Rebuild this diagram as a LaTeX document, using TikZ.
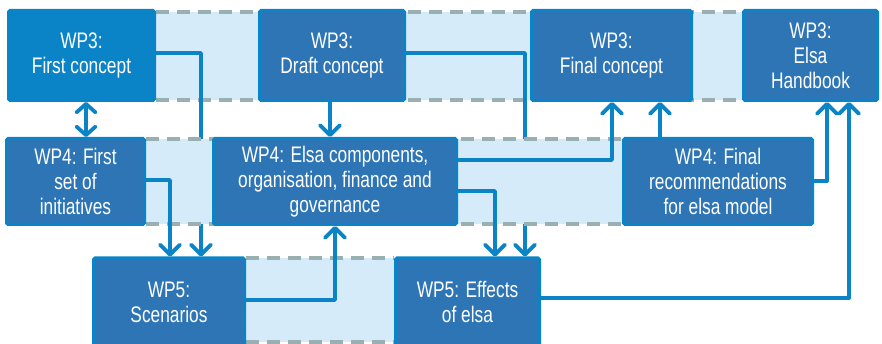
\documentclass[tikz,border=0pt]{standalone}
\usepackage{fontspec}
\setmainfont{Liberation Sans}[FakeStretch=0.77]
\usetikzlibrary{arrows.meta}
\definecolor{bright}{HTML}{0A84C7}
\definecolor{darkbox}{HTML}{2E75B6}
\definecolor{bandfill}{HTML}{D6EBF9}
\definecolor{bandline}{HTML}{9AAFB1}
\tikzset{
  box/.style={rectangle, draw=bright, fill=darkbox, line width=3pt, rounded corners=1.5pt,
    text=white, align=center, inner sep=2pt, font=\fontsize{22.5}{25}\selectfont},
  fullbox/.style={box, fill=bright},
  conn/.style={draw=bright, line width=3.8pt, line join=round,
    -{Straight Barb[length=10pt,width=20pt,round]}},
  dconn/.style={conn, {Straight Barb[length=8.5pt,width=19pt,round]}-{Straight Barb[length=8.5pt,width=19pt,round]}},
  bandedge/.style={draw=bandline, line width=3.5pt, dash pattern=on 13pt off 8pt}
}
\begin{document}
\begin{tikzpicture}[x=1pt,y=-1pt]
\useasboundingbox (0,0) rectangle (882,344);
\pgfdeclarelayer{bg}\pgfdeclarelayer{mid}\pgfdeclarelayer{low}
\pgfsetlayers{low,bg,mid,main}
\node[fullbox, minimum width=146pt, minimum height=90pt] (fc) at (81.5,55.5) {WP3:\\First concept};
\node[box, minimum width=145pt, minimum height=90pt] (dc) at (332,55.5) {WP3:\\Draft concept};
\node[box, minimum width=160pt, minimum height=90pt] (fin) at (611.5,55.5) {WP3:\\Final concept};
\node[box, minimum width=134pt, minimum height=90pt] (hb) at (810.5,55.5) {WP3:\\Elsa\\Handbook};
\node[box, minimum width=138pt, minimum height=86pt] (fs) at (75.5,181.5) {WP4: First\\set of\\initiatives};
\node[box, minimum width=243pt, minimum height=86pt] (ec) at (335,181.5) {WP4: Elsa components,\\organisation, finance and\\governance};
\node[box, minimum width=189pt, minimum height=86pt] (fr) at (718,181.5) {WP4: Final\\recommendations\\for elsa model};
\node[box, minimum width=151pt, minimum height=88pt] (sc) at (169,302) {WP5:\\Scenarios};
\node[box, minimum width=144pt, minimum height=88pt] (ef) at (467.5,302) {WP5: Effects\\of elsa};
\coordinate (xa) at (201,0);
\coordinate (xb) at (525,0);
\coordinate (xc) at (612,0);
\coordinate (xd) at (495,0);
\coordinate (xe) at (170,0);
\coordinate (xf) at (827,0);
\coordinate (xg) at (849,0);
\coordinate (xh) at (335,0);
\coordinate (xi) at (86,0);
\coordinate (xj) at (330,0);
\coordinate (xk) at (660,0);
% band 1
\begin{pgfonlayer}{low}
\fill[bandfill] (156,12) rectangle (742,100);
\draw[bandedge] (156,12) -- (742,12);
\draw[bandedge] (156,100) -- (742,100);
\end{pgfonlayer}
% connectors hidden by band 2
\begin{pgfonlayer}{low}
\draw[conn] ([yshift=2.5pt]fc.east) -| (xa |- sc.north);
\draw[conn] ([yshift=2.5pt]dc.east) -| (xb |- ef.north);
\end{pgfonlayer}
% bands 2 and 3
\begin{pgfonlayer}{bg}
\fill[bandfill] (146,139) rectangle (622,224);
\draw[bandedge] (146,139) -- (622,139);
\draw[bandedge] (146,224) -- (622,224);
\fill[bandfill] (246,258) rectangle (394,342);
\draw[bandedge] (246,258) -- (394,258);
\draw[bandedge] (246,342) -- (394,342);
\end{pgfonlayer}
% other connectors
\begin{pgfonlayer}{mid}
\draw[dconn] (xi |- fc.south) -- (xi |- fs.north);
\draw[conn] (xj |- dc.south) -- (xj |- ec.north);
\draw[conn] ([yshift=21.5pt]ec.east) -| (xc |- fin.south);
\draw[conn] ([yshift=-9.5pt]ec.east) -| (xd |- ef.north);
\draw[conn] ([yshift=1.5pt]fs.east) -| (xe |- sc.north);
\draw[conn] (xk |- fr.north) -- (xk |- fin.south);
\draw[conn] ([yshift=0.5pt]fr.east) -| (xf |- hb.south);
\draw[conn] ([yshift=4pt]ef.east) -| (xg |- hb.south);
\draw[conn] ([yshift=2pt]sc.east) -| (xh |- ec.south);
\end{pgfonlayer}
\end{tikzpicture}
\end{document}
